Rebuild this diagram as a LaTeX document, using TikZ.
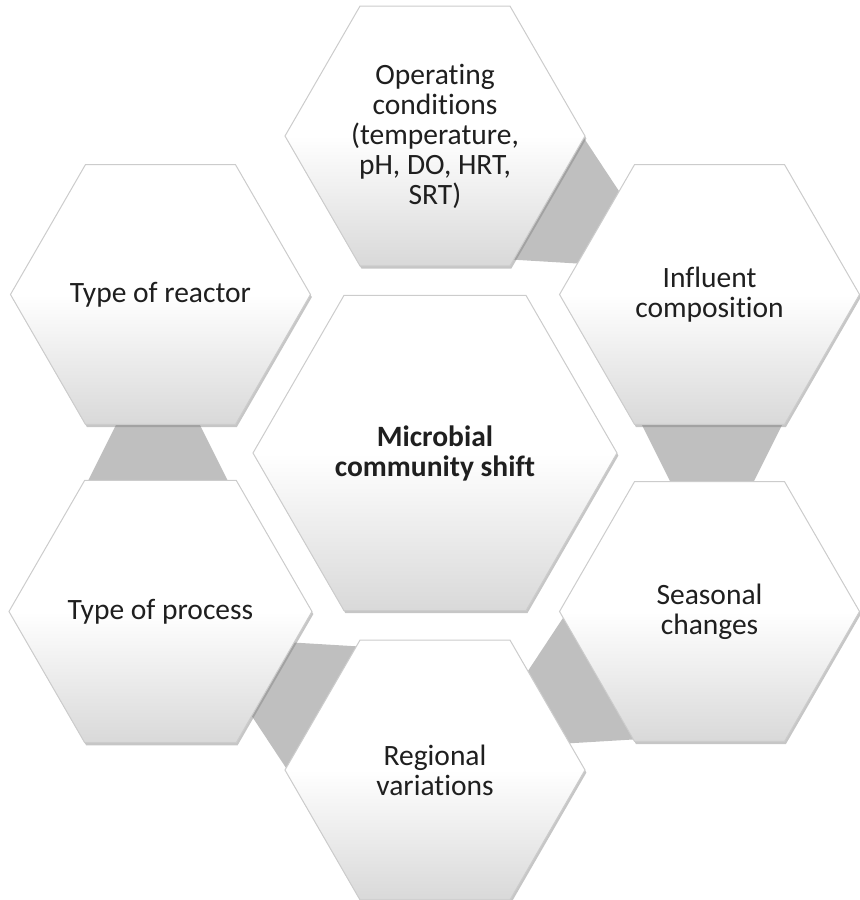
\documentclass[tikz,border=0pt]{standalone}
\usepackage{fontspec}
\setmainfont{Carlito}[Ligatures={NoCommon,NoContextual,NoRequired}]
\usetikzlibrary{shapes.geometric,shadows}

\begin{document}
\begin{tikzpicture}[x=0.5pt,y=0.5pt,
  hexa/.style={regular polygon,regular polygon sides=6,minimum size=150pt,
    inner sep=0pt,outer sep=0pt,draw=black!20,line width=0.5pt,
    top color=white,bottom color=black!15,middle color=white,
    drop shadow={shadow xshift=0.7pt,shadow yshift=-1.3pt,opacity=0.45},
    text=black!88,align=center,font=\fontsize{14.75}{15}\selectfont},
  link/.style={fill=black!25}]
  \useasboundingbox (-435,-447) rectangle (424,453);
  % gray links between neighbours
  \foreach \a in {0,60,-60,-120,180}
    \fill[link,rotate=\a] (191,60) -- (363,60) -- (303,-60) -- (251,-60) -- cycle;
  \node[hexa,minimum size=182pt,font=\fontsize{14.75}{15}\selectfont\bfseries] (shift) at (0,0) {Microbial\\community shift};
  \node[hexa] (ops)   at (90:317)   {Operating\\conditions\\(temperature,\\pH, DO, HRT,\\SRT)};
  \node[hexa] (infl)  at (30:317)   {Influent\\composition};
  \node[hexa] (seas)  at (-30:317)  {Seasonal\\changes};
  \node[hexa] (regio) at (-90:317)  {Regional\\variations};
  \node[hexa] (proc)  at (-150:317) {Type of process};
  \node[hexa] (reac)  at (150:317)  {Type of reactor};
\end{tikzpicture}
\end{document}
